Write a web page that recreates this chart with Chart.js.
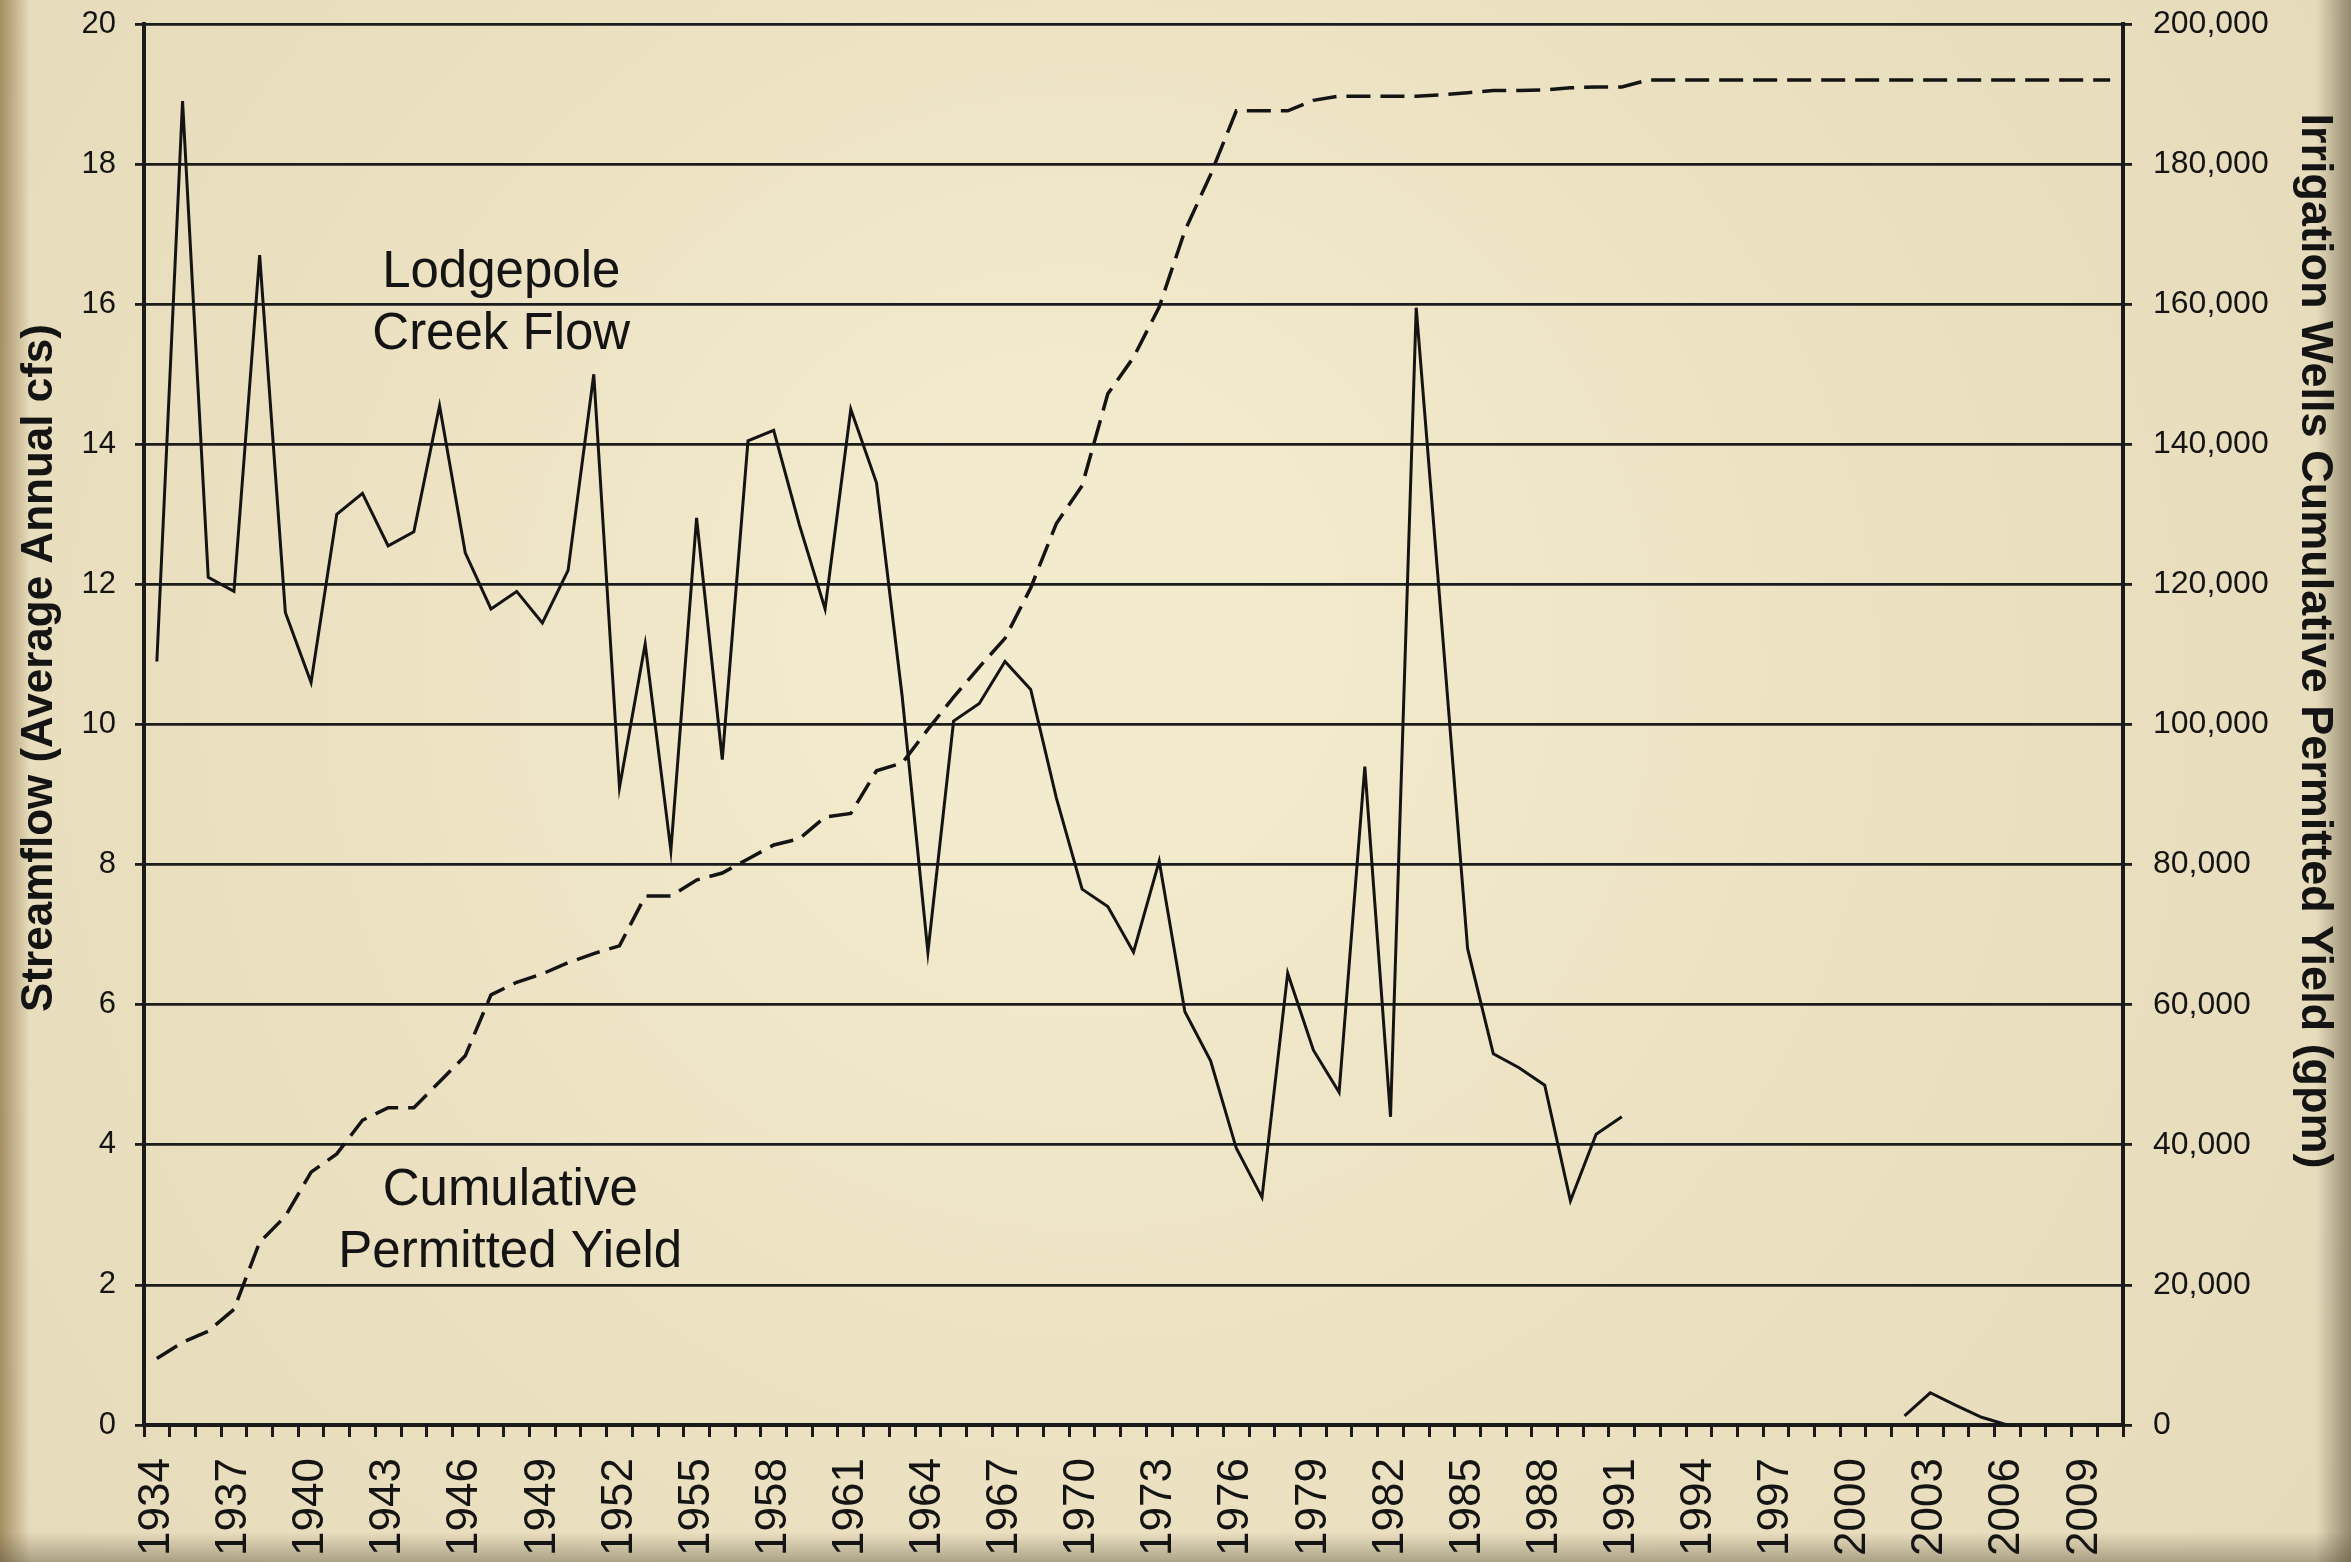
<!DOCTYPE html>
<html>
<head>
<meta charset="utf-8">
<title>Lodgepole Creek Flow vs Cumulative Permitted Yield</title>
<script src="https://cdn.jsdelivr.net/npm/chart.js@4.4.1/dist/chart.umd.min.js"></script>
<style>
  html, body { margin: 0; padding: 0; background: #EFE6C6; }
  canvas { display: block; }
</style>
</head>
<body>
<canvas id="flowChart" width="2351" height="1562"></canvas>
<script>
// 연도 (카테고리)
const years = [
  '1934','1935','1936','1937','1938','1939','1940','1941','1942','1943',
  '1944','1945','1946','1947','1948','1949','1950','1951','1952','1953',
  '1954','1955','1956','1957','1958','1959','1960','1961','1962','1963',
  '1964','1965','1966','1967','1968','1969','1970','1971','1972','1973',
  '1974','1975','1976','1977','1978','1979','1980','1981','1982','1983',
  '1984','1985','1986','1987','1988','1989','1990','1991','1992','1993',
  '1994','1995','1996','1997','1998','1999','2000','2001','2002','2003',
  '2004','2005','2006','2007','2008','2009','2010'
];

// 축에 표시되는 연도
const tickYears = [
  '1934','1937','1940','1943','1946','1949','1952','1955','1958','1961',
  '1964','1967','1970','1973','1976','1979','1982','1985','1988','1991',
  '1994','1997','2000','2003','2006','2009'
];

// Lodgepole Creek 유량 (cfs)
const streamflow = [
  10.9, 18.9, 12.1, 11.9, 16.7, 11.6, 10.6, 13.0, 13.3, 12.55,
  12.75, 14.55, 12.45, 11.65, 11.9, 11.45, 12.2, 15.0, 9.1, 11.15,
  8.2, 12.95, 9.5, 14.05, 14.2, 12.85, 11.65, 14.5, 13.45, 10.4,
  6.75, 10.05, 10.3, 10.9, 10.5, 8.95, 7.65, 7.4, 6.75, 8.05,
  5.9, 5.2, 3.95, 3.25, 6.45, 5.35, 4.75, 9.4, 4.4, 15.95,
  11.4, 6.8, 5.3, 5.1, 4.85, 3.2, 4.15, 4.4, null, null,
  null, null, null, null, null, null, null, null, 0.13, 0.46,
  0.28, 0.11, 0.0, null, null, null, null
];

// 관개정 누적 허가량 (gpm)
const permittedYield = [
  9500, 11800, 13400, 16500, 26100, 29800, 36100, 38700, 43500, 45300,
  45300, 49000, 52700, 61400, 63200, 64400, 66000, 67300, 68400, 75500,
  75500, 77800, 78800, 80800, 82800, 83700, 86800, 87300, 93400, 94500,
  99300, 103900, 108200, 112300, 119500, 128700, 134100, 147200, 152400, 159600,
  170500, 178500, 187600, 187600, 187600, 189100, 189700, 189700, 189700, 189700,
  189900, 190200, 190500, 190500, 190600, 190900, 191000, 191000, 192000, 192000,
  192000, 192000, 192000, 192000, 192000, 192000, 192000, 192000, 192000, 192000,
  192000, 192000, 192000, 192000, 192000, 192000, 192000
];

const leftTitle = 'Streamflow (Average Annual cfs)';
const rightTitle = 'Irrigation Wells Cumulative Permitted Yield (gpm)';
const flowNote = ['Lodgepole', 'Creek Flow'];
const yieldNote = ['Cumulative', 'Permitted Yield'];

const FONT = "'Liberation Sans', Arial, Helvetica, sans-serif";
const INK = '#141414';

// 배경, 주석, 축 제목
const paperPlugin = {
  id: 'paper',
  beforeDraw(chart) {
    const ctx = chart.ctx;
    const w = chart.width, h = chart.height;
    ctx.save();
    ctx.fillStyle = '#F0E7C8';
    ctx.fillRect(0, 0, w, h);

    const glow = ctx.createRadialGradient(w * 0.45, h * 0.4, 200, w * 0.5, h * 0.5, w * 0.75);
    glow.addColorStop(0, 'rgba(255,250,225,0.2)');
    glow.addColorStop(1, 'rgba(150,120,70,0.14)');
    ctx.fillStyle = glow;
    ctx.fillRect(0, 0, w, h);

    let g = ctx.createLinearGradient(0, 0, 30, 0);
    g.addColorStop(0, 'rgba(120,90,40,0.6)');
    g.addColorStop(1, 'rgba(120,90,40,0)');
    ctx.fillStyle = g;
    ctx.fillRect(0, 0, 30, h);

    g = ctx.createLinearGradient(w, 0, w - 35, 0);
    g.addColorStop(0, 'rgba(80,70,50,0.55)');
    g.addColorStop(1, 'rgba(80,70,50,0)');
    ctx.fillStyle = g;
    ctx.fillRect(w - 35, 0, 35, h);

    g = ctx.createLinearGradient(0, h, 0, h - 30);
    g.addColorStop(0, 'rgba(80,70,50,0.4)');
    g.addColorStop(1, 'rgba(80,70,50,0)');
    ctx.fillStyle = g;
    ctx.fillRect(0, h - 30, w, 30);
    ctx.restore();
  },
  afterDatasetsDraw(chart) {
    const ctx = chart.ctx;
    const x = chart.scales.x, y = chart.scales.y;
    ctx.save();
    ctx.fillStyle = INK;
    ctx.font = '51px ' + FONT;
    ctx.textAlign = 'center';
    ctx.textBaseline = 'alphabetic';
    const drawNote = (lines, idx, val) => {
      const px = x.getPixelForValue(idx);
      const py = y.getPixelForValue(val);
      lines.forEach((t, i) => ctx.fillText(t, px, py + i * 62));
    };
    drawNote(flowNote, 13.4, 16.25);
    drawNote(yieldNote, 13.75, 3.14);
    ctx.restore();
  },
  afterDraw(chart) {
    const ctx = chart.ctx;
    ctx.save();
    ctx.fillStyle = INK;
    ctx.textAlign = 'center';
    ctx.textBaseline = 'middle';

    ctx.font = 'bold 44px ' + FONT;
    ctx.translate(40, 668);
    ctx.rotate(-Math.PI / 2);
    ctx.fillText(leftTitle, 0, 0);
    ctx.restore();

    ctx.save();
    ctx.fillStyle = INK;
    ctx.textAlign = 'center';
    ctx.textBaseline = 'middle';
    ctx.font = 'bold 45px ' + FONT;
    ctx.translate(2314, 641);
    ctx.rotate(Math.PI / 2);
    ctx.fillText(rightTitle, 0, 0);
    ctx.restore();
  }
};

Chart.defaults.font.family = FONT;
Chart.defaults.color = INK;

new Chart(document.getElementById('flowChart'), {
  type: 'line',
  data: {
    labels: years,
    datasets: [
      {
        label: 'Lodgepole Creek Flow',
        data: streamflow,
        yAxisID: 'y',
        borderColor: INK,
        borderWidth: 3,
        pointRadius: 0,
        tension: 0,
        spanGaps: false
      },
      {
        label: 'Cumulative Permitted Yield',
        data: permittedYield,
        yAxisID: 'y1',
        borderColor: INK,
        borderWidth: 3.5,
        borderDash: [24, 10],
        pointRadius: 0,
        tension: 0
      }
    ]
  },
  options: {
    responsive: false,
    animation: false,
    devicePixelRatio: 1,
    layout: { padding: { top: 24, left: 0, right: 0, bottom: 0 } },
    plugins: {
      legend: { display: false },
      tooltip: { enabled: false }
    },
    scales: {
      x: {
        type: 'category',
        offset: true,
        afterFit: s => { s.height = 137; },
        grid: {
          offset: true,
          drawOnChartArea: false,
          drawTicks: true,
          tickLength: 12,
          color: '#1a1a1a',
          lineWidth: 3
        },
        border: { display: true, color: '#1a1a1a', width: 4 },
        ticks: {
          autoSkip: false,
          maxRotation: 90,
          minRotation: 90,
          padding: 21,
          color: INK,
          font: { size: 44 },
          callback: function (value) {
            const label = this.getLabelForValue(value);
            return tickYears.includes(label) ? label : '';
          }
        }
      },
      y: {
        position: 'left',
        min: 0,
        max: 20,
        afterFit: s => { s.width = 144; s.paddingTop = 0; },
        grid: {
          color: '#1c1c1c',
          lineWidth: 2.8,
          tickLength: 9
        },
        border: { display: true, color: '#1a1a1a', width: 4 },
        ticks: {
          stepSize: 2,
          padding: 19,
          color: INK,
          font: { size: 31 }
        }
      },
      y1: {
        position: 'right',
        min: 0,
        max: 200000,
        afterFit: s => { s.width = 228; s.paddingTop = 0; },
        grid: {
          drawOnChartArea: false,
          color: '#1c1c1c',
          lineWidth: 2.8,
          tickLength: 9
        },
        border: { display: true, color: '#1a1a1a', width: 4 },
        ticks: {
          stepSize: 20000,
          padding: 21,
          color: INK,
          font: { size: 32 },
          callback: v => v.toLocaleString('en-US')
        }
      }
    }
  },
  plugins: [paperPlugin]
});
</script>
</body>
</html>
